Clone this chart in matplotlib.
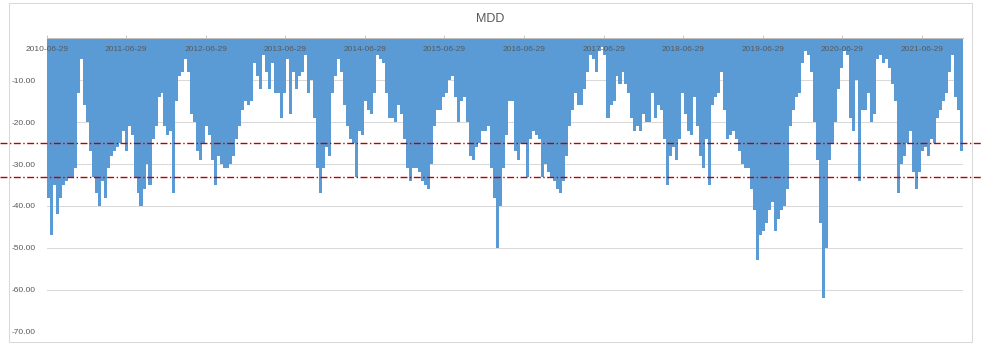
#coding=utf-8
import numpy as np
import pandas as pd
import matplotlib
matplotlib.use('Agg')
import matplotlib.pyplot as plt
import matplotlib.dates as mdates
import matplotlib.transforms as mtransforms
from matplotlib.lines import Line2D
from matplotlib.patches import Rectangle

plt.rcParams['font.family'] = ['Liberation Sans', 'DejaVu Sans']

# 最大回撤 (%)，约两周一个点
start_date = '2010-06-29'
end_date = '2021-12-20'
mdd = [38, 47, 35, 42, 38, 35, 34, 33, 33, 31, 13, 5, 16, 20, 27, 33, 37, 40, 34, 38,
       31, 28, 27, 26, 25, 22, 27, 21, 23, 33, 37, 40, 36, 30, 35, 24, 21, 14,
       # 2011-2012
       13, 21, 23, 22, 37, 15, 9, 8, 5, 8, 18, 20, 27, 29, 25, 21, 23, 29, 35, 28,
       30, 31, 31, 30, 28, 24, 21, 17, 15, 16, 15, 6, 9, 12, 4, 8, 12, 6, 13, 13,
       19, 13, 5, 18, 8, 12, 9, 8, 4, 13,
       # 2013-2015
       10, 19, 31, 37, 31, 26, 28, 13, 9, 5, 8, 16, 21, 24, 25, 33, 22, 23, 15, 17,
       18, 13, 4, 5, 6, 13, 19, 19, 20, 16, 18, 24, 31, 34, 31, 31, 32, 34, 35, 36,
       30, 21, 17, 17, 14, 13, 10, 9, 14, 20,
       # 2015-2017
       15, 14, 20, 28, 29, 26, 25, 22, 22, 21, 31, 38, 50, 40, 31, 23, 15, 15, 27, 29,
       25, 25, 33, 24, 22, 23, 24, 33, 30, 32, 33, 34, 36, 37, 34, 28, 21, 17, 13, 16,
       16, 12, 8, 4, 5, 8, 3, 2, 4, 19,
       # 2017-2019
       16, 15, 9, 11, 8, 11, 13, 19, 22, 21, 22, 18, 20, 20, 13, 19, 16, 17, 24, 35,
       28, 26, 29, 24, 13, 18, 22, 23, 14, 21, 28, 31, 24, 35, 16, 14, 13, 8, 17, 24,
       23, 22, 24, 27, 30, 31, 31, 36, 41, 53,
       # 2019-2021
       47, 46, 44, 41, 39, 46, 43, 41, 40, 36, 21, 17, 14, 13, 6, 3, 4, 8, 20, 29,
       44, 62, 50, 29, 25, 20, 12, 7, 3, 4, 19, 22, 10, 34, 17, 17, 13, 20, 18, 5,
       4, 6, 5, 7, 11, 15, 37, 30, 28, 25,
       # 2021
       22, 32, 36, 32, 27, 26, 28, 24, 25, 19, 17, 15, 13, 8, 4, 14, 17, 27]
tick_dates = ['2010-06-29', '2011-06-29', '2012-06-29', '2013-06-29', '2014-06-29', '2015-06-29',
              '2016-06-29', '2017-06-29', '2018-06-29', '2019-06-29', '2020-06-29', '2021-06-29']
y_ticks = [-70, -60, -50, -40, -30, -20, -10]
warn_levels = [25, 33]

dates = pd.date_range(start_date, end_date, periods=len(mdd))
x = mdates.date2num(dates)
step = x[1] - x[0]

fig = plt.figure(figsize=(9.81, 3.54), dpi=100)
ax = fig.add_axes([46.7/981, 1-331.7/354, 916/981, (331.7-38.3)/354])

ax.bar(x, -np.array(mdd), width=step*1.02, align='edge', color='#5B9BD5', linewidth=0)

ax.set_xlim(x[0], x[-1] + step)
ax.set_ylim(-70, 0)

# 日期标签放在顶部，压在柱子上（用text画，免得被柱子盖住）
tick_x = mdates.date2num(pd.to_datetime(tick_dates))
ax.set_xticks(tick_x)
ax.set_xticklabels([])
ax.xaxis.set_ticks_position('top')
ax.tick_params(axis='x', direction='out', length=2, width=0.6, color='#BFBFBF')
xtrans = mtransforms.blended_transform_factory(ax.transData, ax.transAxes)
for tx, lab in zip(tick_x, tick_dates):
    ax.text(tx, 0.9635, lab, transform=xtrans, ha='center', va='center',
            fontsize=6, color='#595959', zorder=5, clip_on=False)

ax.set_yticks(y_ticks)
ax.set_yticklabels(['%.2f' % v for v in y_ticks])
ax.tick_params(axis='y', length=0, pad=8, labelsize=6, labelcolor='#595959')
ax.yaxis.grid(True, color='#D9D9D9', linewidth=0.75)
ax.set_axisbelow(True)

for s in ['left', 'right', 'bottom']:
    ax.spines[s].set_visible(False)
ax.spines['top'].set_color('#BFBFBF')
ax.spines['top'].set_linewidth(0.75)

# 红色警戒线，横穿整张图
trans = mtransforms.blended_transform_factory(fig.transFigure, ax.transData)
for lvl in warn_levels:
    fig.add_artist(Line2D([0, 1], [-lvl, -lvl], transform=trans, color='#C00000',
                          linewidth=1, linestyle=(0, (5, 1.8, 1, 1.8))))

fig.add_artist(Rectangle((9/981, 1-342/354), 963/981, 339/354, transform=fig.transFigure,
                         fill=False, edgecolor='#D9D9D9', linewidth=0.75))
fig.text(490/981, 1-19.5/354, 'MDD', ha='center', va='center', fontsize=9, color='#595959')

fig.savefig('out.png', dpi=100)
